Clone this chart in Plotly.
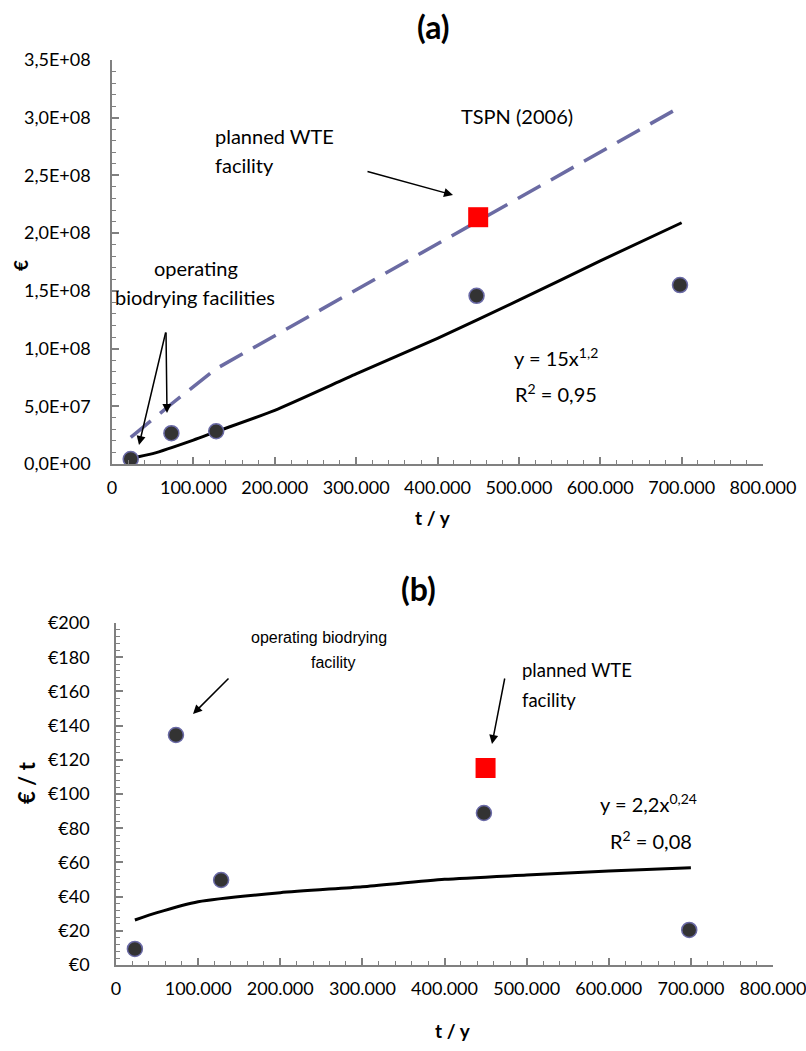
import plotly.graph_objects as go

# ---------------- data (a) ----------------
pts_x = [23000, 73000, 128000, 448000, 698000]
cost_a = [4.3e6, 26.7e6, 28.4e6, 145.7e6, 155e6]
wte_x = [450000]
wte_a = [213.8e6]
tspn_x = [23000, 73000, 128000, 450000, 700000]
tspn_a = [23e6, 52e6, 82.5e6, 211e6, 310e6]
trend_x = [23000, 50000, 100000, 128000, 200000, 300000, 400000, 500000, 600000, 700000]
trend_a = [5e6, 9e6, 20.7e6, 28e6, 46.5e6, 78e6, 108.9e6, 141.9e6, 176e6, 209e6]

# ---------------- data (b) ----------------
cost_b = [9.4, 134.5, 49.7, 88.9, 20.5]
wte_b = [115.2]
trend_bx = [23000, 50000, 100000, 200000, 300000, 400000, 500000, 600000, 700000]
trend_b = [26.3, 30.6, 37.0, 42.3, 45.8, 50.1, 52.6, 55.0, 56.9]

x_ticks = [0, 100000, 200000, 300000, 400000, 500000, 600000, 700000, 800000]
x_labels = ["0", "100.000", "200.000", "300.000", "400.000", "500.000", "600.000", "700.000", "800.000"]
ya_ticks = [0, 5e7, 1e8, 1.5e8, 2e8, 2.5e8, 3e8, 3.5e8]
ya_labels = ["0,0E+00", "5,0E+07", "1,0E+08", "1,5E+08", "2,0E+08", "2,5E+08", "3,0E+08", "3,5E+08"]
yb_ticks = [0, 20, 40, 60, 80, 100, 120, 140, 160, 180, 200]
yb_labels = ["€0", "€20", "€40", "€60", "€80", "€100", "€120", "€140", "€160", "€180", "€200"]

W, H = 806, 1051
FONT = "Lato"
AX = "#808080"

def px(x):
    return x / W

def py(y):
    return 1 - y / H

fig = go.Figure()

marker_dot = dict(size=15, color="#333333", line=dict(color="#6a6aa6", width=1.5))
marker_sq = dict(size=20, color="#ff0000", symbol="square", line=dict(width=0))

# (a)
fig.add_trace(go.Scatter(x=tspn_x, y=tspn_a, mode="lines", xaxis="x", yaxis="y",
                         line=dict(color="#6b6ba3", width=3.5, dash="26px,12px")))
fig.add_trace(go.Scatter(x=trend_x, y=trend_a, mode="lines", xaxis="x", yaxis="y",
                         line=dict(color="black", width=3, shape="spline", smoothing=0.6)))
fig.add_trace(go.Scatter(x=pts_x, y=cost_a, mode="markers", xaxis="x", yaxis="y", marker=marker_dot))
fig.add_trace(go.Scatter(x=wte_x, y=wte_a, mode="markers", xaxis="x", yaxis="y", marker=marker_sq))

# (b)
fig.add_trace(go.Scatter(x=trend_bx, y=trend_b, mode="lines", xaxis="x2", yaxis="y2",
                         line=dict(color="black", width=3, shape="spline", smoothing=0.6)))
fig.add_trace(go.Scatter(x=pts_x, y=cost_b, mode="markers", xaxis="x2", yaxis="y2", marker=marker_dot))
fig.add_trace(go.Scatter(x=wte_x, y=wte_b, mode="markers", xaxis="x2", yaxis="y2", marker=marker_sq))

TICKFONT = dict(family=FONT, size=18, color="black")

def xaxis_cfg(domain, anchor):
    return dict(domain=domain, anchor=anchor, range=[0, 800000], tickmode="array",
                tickvals=x_ticks, ticktext=x_labels, automargin=False, ticklabeloverflow="allow",
                showgrid=False, zeroline=False, showline=True, linecolor=AX, linewidth=1.5,
                ticks="inside", ticklen=7, tickcolor=AX, tickwidth=1.5,
                minor=dict(tickmode="linear", tick0=0, dtick=20000, ticks="inside", ticklen=4,
                           tickcolor=AX, tickwidth=1, showgrid=False),
                tickfont=TICKFONT, ticklabelstandoff=7)

def yaxis_cfg(domain, anchor, rng, vals, labels, minor_dt, standoff):
    return dict(domain=domain, anchor=anchor, range=rng, tickmode="array", tickvals=vals, ticktext=labels,
                automargin=False, ticklabeloverflow="allow",
                showgrid=False, zeroline=False, showline=True, linecolor=AX, linewidth=1.5,
                ticks="inside", ticklen=7, tickcolor=AX, tickwidth=1.5,
                minor=dict(tickmode="linear", tick0=0, dtick=minor_dt, ticks="inside", ticklen=4,
                           tickcolor=AX, tickwidth=1, showgrid=False),
                tickfont=TICKFONT, ticklabelstandoff=standoff)

fig.update_layout(
    template="none",
    width=W, height=H, margin=dict(l=0, r=0, t=0, b=0, pad=0, autoexpand=False),
    paper_bgcolor="white", plot_bgcolor="white", showlegend=False,
    xaxis=xaxis_cfg([px(112), px(763)], "y"),
    yaxis=yaxis_cfg([py(464), py(60)], "x", [0, 3.5e8], ya_ticks, ya_labels, 1e7, 16),
    xaxis2=xaxis_cfg([px(116), px(773)], "y2"),
    yaxis2=yaxis_cfg([py(965), py(623)], "x2", [0, 200], yb_ticks, yb_labels, 4, 21),
)

ann = []

def text(x, y, s, size=20, bold=False, family=FONT, align="center", xanchor="center", angle=0):
    ann.append(dict(x=px(x), y=py(y), xref="paper", yref="paper", text=(f"<b>{s}</b>" if bold else s),
                    showarrow=False, xanchor=xanchor, yanchor="middle", align=align, textangle=angle,
                    font=dict(family=family, size=size, color="black")))

def arrow(x0, y0, x1, y1):
    ann.append(dict(x=px(x1), y=py(y1), ax=x0 - x1, ay=y0 - y1, xref="paper", yref="paper",
                    axref="pixel", ayref="pixel", text="", showarrow=True, arrowhead=2,
                    arrowsize=1.2, arrowwidth=1.5, arrowcolor="black"))

# titles
text(433, 27, "(a)", size=32, bold=True)
text(418, 588, "(b)", size=32, bold=True)
# axis titles
text(433, 517, "t / y", size=19, bold=True)
text(453, 1030, "t / y", size=19, bold=True)
text(20, 266, "€", size=19, bold=True, angle=-90)
text(26, 783, "€ / t", size=22, bold=True, angle=-90)

# (a) annotations
text(517, 116, "TSPN (2006)")
text(213, 136, "planned WTE", xanchor="left")
text(213, 165, "facility", xanchor="left")
arrow(366, 171, 453, 195)
text(196, 268, "operating")
text(195, 297, "biodrying facilities")
arrow(166, 331, 139, 445)
arrow(166, 331, 167, 413)
text(512, 357, "y = 15x<sup>1,2</sup>", xanchor="left")
text(513, 393, "R<sup>2</sup> = 0,95", xanchor="left")

# (b) annotations
text(319, 637, "operating biodrying", size=16, family="Liberation Sans")
text(333, 662, "facility", size=16, family="Liberation Sans")
arrow(230, 677, 193, 714)
text(520, 670, "planned WTE", size=18.5, xanchor="left")
text(520, 700, "facility", size=18.5, xanchor="left")
arrow(505, 677, 492, 744)
text(598, 803, "y = 2,2x<sup>0,24</sup>", xanchor="left")
text(608, 840, "R<sup>2</sup> = 0,08", xanchor="left")

fig.update_layout(annotations=ann)
fig.write_html("out.html", config={"displayModeBar": False, "responsive": False},
               post_script="document.body.style.margin='0';document.body.style.overflow='hidden';")
